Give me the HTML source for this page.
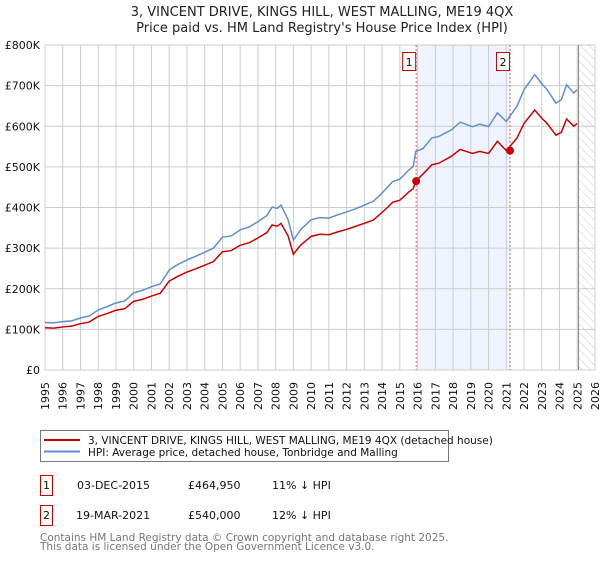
<!DOCTYPE html>
<html><head><meta charset="utf-8"><style>
body{margin:0;background:#fff;width:600px;height:560px;overflow:hidden;font-family:"DejaVu Sans","Liberation Sans",sans-serif}
</style></head><body>
<svg width="600" height="560" xmlns="http://www.w3.org/2000/svg" font-family="DejaVu Sans, Liberation Sans, sans-serif">
<text x="322" y="16" text-anchor="middle" font-size="13" fill="#222">3, VINCENT DRIVE, KINGS HILL, WEST MALLING, ME19 4QX</text>
<text x="322" y="32" text-anchor="middle" font-size="13" fill="#222">Price paid vs. HM Land Registry's House Price Index (HPI)</text>
<g id="plot"></g>
<g>
<rect x="40.5" y="430.5" width="408" height="31" fill="#fff" stroke="#777"/>
<line x1="44" y1="440" x2="80" y2="440" stroke="#cc0000" stroke-width="2"/>
<text x="88" y="444" font-size="10.5" fill="#111">3, VINCENT DRIVE, KINGS HILL, WEST MALLING, ME19 4QX (detached house)</text>
<line x1="44" y1="451.5" x2="80" y2="451.5" stroke="#5f8fd0" stroke-width="2"/>
<text x="88" y="456" font-size="10.5" fill="#111">HPI: Average price, detached house, Tonbridge and Malling</text>
</g>
<g font-size="11" fill="#111">
<rect x="40.5" y="475.5" width="12" height="20" fill="#fff" stroke="#cc0000"/>
<text x="46.5" y="489" text-anchor="middle">1</text>
<text x="77" y="489">03-DEC-2015</text><text x="188" y="489">£464,950</text><text x="272" y="489">11% ↓ HPI</text>
<rect x="40.5" y="505.5" width="12" height="20" fill="#fff" stroke="#cc0000"/>
<text x="46.5" y="519" text-anchor="middle">2</text>
<text x="76" y="519">19-MAR-2021</text><text x="188" y="519">£540,000</text><text x="272" y="519">12% ↓ HPI</text>
</g>
<text x="40" y="541" font-size="10.5" fill="#777">Contains HM Land Registry data © Crown copyright and database right 2025.</text>
<text x="40" y="550" font-size="10.5" fill="#777">This data is licensed under the Open Government Licence v3.0.</text>
</svg>
<script>
const yTicks=[0,100,200,300,400,500,600,700,800];
const yLabels=["£0","£100K","£200K","£300K","£400K","£500K","£600K","£700K","£800K"];
const years=[1995,1996,1997,1998,1999,2000,2001,2002,2003,2004,2005,2006,2007,2008,2009,2010,2011,2012,2013,2014,2015,2016,2017,2018,2019,2020,2021,2022,2023,2024,2025,2026];
const hpiT=[1995.0,1995.5,1996.0,1996.5,1997.0,1997.5,1998.0,1998.5,1999.0,1999.5,2000.0,2000.5,2001.0,2001.5,2002.0,2002.5,2003.0,2003.5,2004.0,2004.5,2005.0,2005.5,2006.0,2006.5,2007.0,2007.5,2007.8,2008.1,2008.3,2008.7,2009.0,2009.4,2010.0,2010.5,2011.0,2011.5,2012.0,2012.4,2013.0,2013.5,2013.9,2014.3,2014.6,2015.0,2015.5,2015.75,2015.9,2016.3,2016.8,2017.2,2017.9,2018.4,2019.1,2019.5,2020.0,2020.5,2021.0,2021.6,2022.0,2022.6,2023.0,2023.3,2023.8,2024.1,2024.4,2024.8,2025.0];
const hpiV=[117,116,119,121,128,133,148,156,165,170,190,196,205,212,246,260,271,280,290,300,327,330,345,352,365,380,401,398,406,370,320,345,370,375,374,382,389,395,406,415,431,450,464,470,492,501,538,545,571,575,591,610,599,605,599,633,612,649,690,727,705,690,657,665,702,682,690];
const redT=hpiT;
const redV=[104,103,106,108,114,118,132,139,147,151,169,174,182,189,219,231,241,249,258,267,291,294,307,313,325,338,357,354,361,330,285,307,329,334,333,340,346,352,361,369,384,400,413,418,438,446,465,482,505,509,526,543,533,538,533,563,540,571,607,640,620,607,578,585,618,600,607];
const sales=[[2015.92,464.95,"1"],[2021.21,540,"2"]];
const NS="http://www.w3.org/2000/svg";
const X0=45,X1=595,Y0=370,Y1=45;
const xs=t=>X0+(t-1995)/31*(X1-X0);
const ys=v=>Y0-v/800*(Y0-Y1);
const g=document.getElementById('plot');
function mk(tag,a,p){const e=document.createElementNS(NS,tag);for(const k in a)e.setAttribute(k,a[k]);(p||g).appendChild(e);return e;}
// shaded span
const sh=mk('rect',{x:xs(sales[0][0]),y:Y1,width:xs(sales[1][0])-xs(sales[0][0]),height:Y0-Y1,fill:'#eef3fd'});


// hatch
const defs=mk('defs',{});
const pat=mk('pattern',{id:'hatch',width:6,height:6,patternUnits:'userSpaceOnUse',patternTransform:'rotate(-45)'},defs);
mk('line',{x1:0,y1:0,x2:0,y2:6,stroke:'#ccc','stroke-width':1},pat);
const ht=mk('rect',{x:xs(2025.07),y:Y1,width:X1-xs(2025.07),height:Y0-Y1,fill:'url(#hatch)'});


years.forEach(y=>{const l=mk('line',{x1:xs(y),y1:Y1,x2:xs(y),y2:Y0,stroke:'#ccc','stroke-width':1});


const t=mk('text',{x:0,y:0,transform:`translate(${xs(y)+4},382) rotate(-90)`,'text-anchor':'end','font-size':11,fill:'#111'});


t.textContent=y;});
yTicks.forEach((v,i)=>{const l=mk('line',{x1:X0,y1:ys(v),x2:X1,y2:ys(v),stroke:'#ccc','stroke-width':1});


const t=mk('text',{x:40,y:ys(v)+4,'text-anchor':'end','font-size':11,fill:'#111'});


t.textContent=yLabels[i];});
const vl=mk('line',{x1:xs(2025.07),y1:Y1,x2:xs(2025.07),y2:Y0,stroke:'#888','stroke-width':1});


sales.forEach(s=>{const l=mk('line',{x1:xs(s[0]),y1:Y1,x2:xs(s[0]),y2:Y0,stroke:'#e86060','stroke-width':1,'stroke-dasharray':'2,2'});


const r=mk('rect',{x:xs(s[0])-13.5,y:52.5,width:13,height:18,fill:'#fff',stroke:'#cc0000'});


const t=mk('text',{x:xs(s[0])-7,y:66,'text-anchor':'middle','font-size':11,fill:'#111'});


t.textContent=s[2];});
const hp=mk('polyline',{points:hpiT.map((t,i)=>xs(t)+','+ys(hpiV[i])).join(' '),fill:'none',stroke:'#5f8fd0','stroke-width':1.5});


const rp=mk('polyline',{points:redT.map((t,i)=>xs(t)+','+ys(redV[i])).join(' '),fill:'none',stroke:'#cc0000','stroke-width':1.5});


sales.forEach(s=>{const c=mk('circle',{cx:xs(s[0]),cy:ys(s[1]),r:4,fill:'#cc0000'});

});
</script>
</body></html>
